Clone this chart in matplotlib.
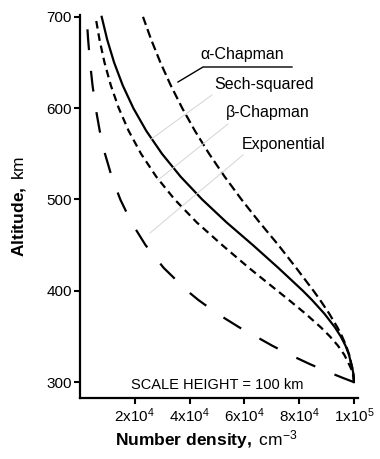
import matplotlib
matplotlib.use("Agg")
import matplotlib.pyplot as plt
from matplotlib.lines import Line2D

plt.rcParams['font.family'] = ['Liberation Sans', 'DejaVu Sans']
plt.rcParams['mathtext.fontset'] = 'custom'
plt.rcParams['mathtext.rm'] = 'Liberation Sans'
plt.rcParams['mathtext.it'] = 'Liberation Sans:italic'
plt.rcParams['mathtext.bf'] = 'Liberation Sans:bold'
plt.rcParams['lines.scale_dashes'] = False

# altitude grid (km) and densities (cm^-3)
altitude = [300, 302, 305, 310, 315, 320, 330, 340, 350, 360, 375, 390, 400,
            425, 450, 475, 500, 525, 550, 575, 600, 625, 650, 675, 700]
alpha_chapman = [100000, 99990, 99940, 99760, 99470, 99070, 98280, 97140, 95690,
                 93970, 90990, 87640, 85250, 78940, 72450, 65530, 58950, 52810,
                 47150, 41990, 37320, 33120, 29350, 25990, 23000]
sech_squared = [100000, 99990, 99940, 99750, 99440, 99010, 98200, 96920, 95200,
                93070, 89210, 84680, 81370, 72440, 63140, 53470, 44600, 36730,
                29940, 24220, 19470, 15590, 12450, 9930, 7920]
beta_chapman = [100000, 99980, 99880, 99520, 98940, 98150, 96480, 94150, 91260,
                87920, 82310, 76240, 72080, 61720, 51940, 42580, 34560, 27830,
                22290, 17780, 14150, 11250, 8940, 7120, 5680]
exponential = [100000, 98240, 95650, 91490, 87510, 83710, 76600, 70110, 64190,
               58130, 50100, 43190, 39130, 30580, 23930, 18750, 14710, 11570,
               9120, 7210, 5730, 4570, 3670, 2970, 2420]

x_ticks = [20000, 40000, 60000, 80000, 100000]
x_ticklabels = ['2x10$^4$', '4x10$^4$', '6x10$^4$', '8x10$^4$', '1x10$^5$']
y_ticks = [300, 400, 500, 600, 700]

W, H = 380, 459
fig = plt.figure(figsize=(W / 100, H / 100), dpi=100)
ax = fig.add_axes([80 / W, 1 - 398 / H, 278 / W, 383 / H])

lw = 1.6
ax.plot(alpha_chapman, altitude, color='black', lw=lw, dashes=(6.5, 3.2))
ax.plot(sech_squared, altitude, color='black', lw=lw)
ax.plot(beta_chapman, altitude, color='black', lw=lw, dashes=(5.5, 3.5))
ax.plot(exponential, altitude, color='black', lw=lw, dashes=(15, 15))

ax.set_xlim(0, 101500)
ax.set_ylim(282.6, 702)
ax.set_xticks(x_ticks)
ax.set_xticklabels(x_ticklabels)
ax.set_yticks(y_ticks)

for s in ['top', 'right']:
    ax.spines[s].set_visible(False)
for s in ['left', 'bottom']:
    ax.spines[s].set_linewidth(1.6)
ax.tick_params(direction='out', length=4, width=1.5, labelsize=11, pad=2)

ax.text(50000, 297, 'SCALE HEIGHT = 100 km', ha='center', va='center', fontsize=10.5)

fig.text(19 / W, 1 - 206 / H, r'$\mathbf{Altitude,}$ km', rotation=90,
         ha='center', va='center', fontsize=12.5)
fig.text(206 / W, 1 - 440 / H, r'$\mathbf{Number\ density,}$ cm$^{-3}$',
         ha='center', va='center', fontsize=12.5)


def fig_line(xs, ys, **kw):
    fig.add_artist(Line2D([x / W for x in xs], [1 - y / H for y in ys],
                          transform=fig.transFigure, **kw))


# curve labels
fig.text(200 / W, 1 - 54 / H, 'α-Chapman', ha='left', va='center', fontsize=11.5)
fig.text(214 / W, 1 - 84 / H, 'Sech-squared', ha='left', va='center', fontsize=11.5)
fig.text(226 / W, 1 - 113 / H, 'β-Chapman', ha='left', va='center', fontsize=11.5)
fig.text(242 / W, 1 - 144 / H, 'Exponential', ha='left', va='center', fontsize=11.5)

fig_line([178, 203, 292], [82, 67, 67], color='black', lw=1.0)
fig_line([150, 212], [140, 95], color='#d4d4d4', lw=0.7)
fig_line([158, 228], [180, 124], color='#d4d4d4', lw=0.7)
fig_line([150, 243], [233, 155], color='#d4d4d4', lw=0.7)

fig.savefig('out.png', dpi=100)
